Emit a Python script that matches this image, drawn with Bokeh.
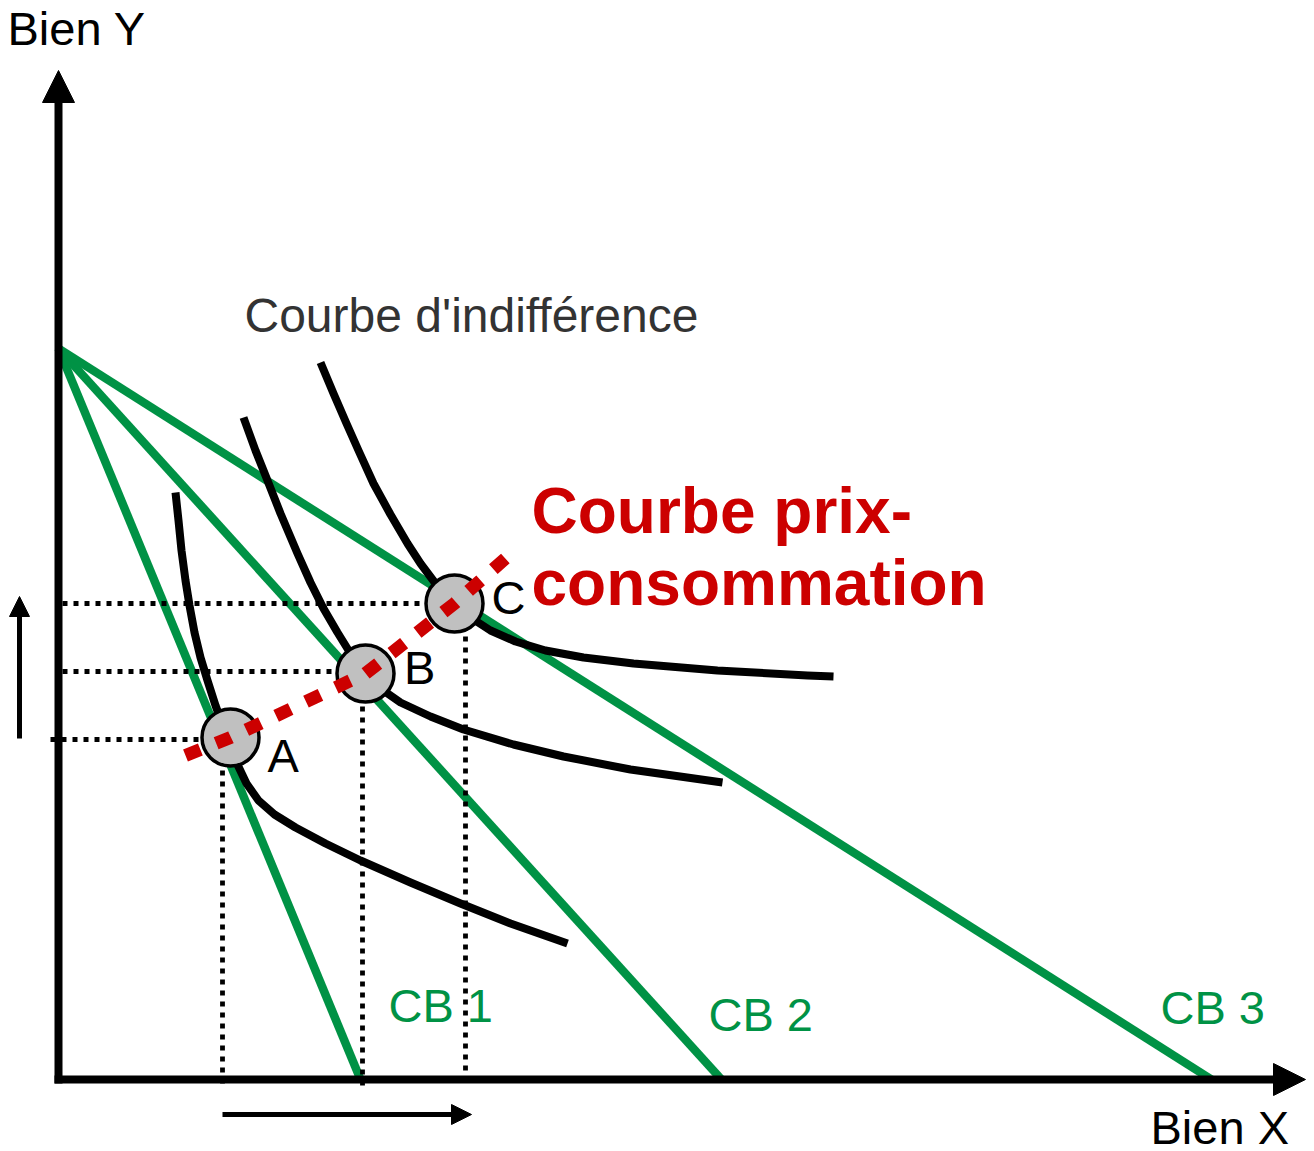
from bokeh.plotting import figure
from bokeh.models import Range1d, Arrow, NormalHead
from bokeh.core.properties import value
from bokeh.embed import file_html
from bokeh.resources import INLINE

# ---- data (units: Bien X / Bien Y) ----
budget_y0 = 73.1                       # common Y intercept of the budget lines
budget_x0 = [30.2, 66.3, 115.3]        # X intercepts CB 1, CB 2, CB 3
budget_labels = ["CB 1", "CB 2", "CB 3"]
budget_label_x = [33.0, 65.0, 110.2]
budget_label_y = [7.36, 6.46, 7.16]

ic1_x = [11.7, 12.0, 12.3, 12.7, 13.1, 13.6, 14.2, 14.9, 15.7, 16.4, 17.2, 17.8, 18.8, 20.0, 21.6, 23.7, 26.7, 30.2, 35.2, 40.2, 45.2, 50.9]
ic1_y = [58.7, 55.9, 52.9, 49.9, 47.4, 44.7, 42.2, 39.9, 37.4, 35.5, 33.9, 31.7, 29.6, 27.9, 26.5, 25.2, 23.6, 21.9, 19.7, 17.6, 15.6, 13.6]
ic2_x = [18.5, 19.7, 20.9, 22.2, 23.9, 25.2, 26.5, 27.9, 29.2, 30.8, 32.2, 34.2, 37.2, 40.5, 45.5, 50.5, 57.2, 66.4]
ic2_y = [66.2, 62.9, 59.9, 56.6, 52.6, 49.7, 47.1, 44.7, 42.6, 40.6, 39.1, 37.7, 36.3, 35.0, 33.5, 32.3, 31.0, 29.7]
ic3_x = [26.2, 27.5, 28.8, 30.0, 31.5, 33.2, 34.9, 36.2, 37.7, 39.6, 41.2, 43.2, 45.7, 48.7, 52.5, 57.5, 65.9, 74.9, 77.5]
ic3_y = [71.7, 68.6, 65.6, 62.9, 59.6, 56.5, 53.6, 51.6, 49.6, 47.6, 46.2, 44.9, 43.8, 42.9, 42.2, 41.6, 40.9, 40.4, 40.3]

pts_name = ["A", "B", "C"]
pts_x = [17.2, 30.7, 39.6]
pts_y = [34.2, 40.6, 47.6]
pts_label_x = [20.9, 34.55, 43.3]
pts_label_y = [32.36, 41.16, 48.16]

# dotted guides
guide_h_y = [34.0, 40.8, 47.6]
guide_h_x0 = [-0.8, 0.4, 0.4]
guide_h_x1 = [17.2, 30.7, 39.6]
guide_v_x = [16.4, 30.4, 40.7]
guide_v_y0 = [34.2, 40.6, 47.6]
guide_v_y1 = [-0.6, -1.1, 0.6]

# price-consumption curve
pcc_x = [12.7, 17.2, 30.7, 39.6, 45.7]
pcc_y = [32.4, 34.2, 40.6, 47.6, 53.0]

# axes & shift arrows
yaxis_x = [0.0, 0.0]
yaxis_y = [-0.4, 100.9]
xaxis_x = [-0.4, 124.7]
xaxis_y = [0.0, 0.0]
up_arrow_x = [-3.9, -3.9]
up_arrow_y = [34.1, 48.3]
right_arrow_x = [16.4, 41.3]
right_arrow_y = [-3.5, -3.5]

GREEN = "#009245"
RED = "#CC0000"
FONT = value("Liberation Sans")

p = figure(width=1314, height=1151, output_backend="svg", toolbar_location=None,
           x_range=Range1d(-5.8, 125.6), y_range=Range1d(-7.2, 107.9),
           x_axis_location=None, y_axis_location=None, min_border=0)
p.grid.visible = False
p.outline_line_color = None
p.background_fill_color = "white"

# budget lines
p.multi_line(xs=[[0, x0] for x0 in budget_x0], ys=[[budget_y0, 0] for _ in budget_x0],
             line_color=GREEN, line_width=8.5)

# dotted guides
p.segment(x0=guide_h_x0, y0=guide_h_y, x1=guide_h_x1, y1=guide_h_y,
          line_color="black", line_width=4.8, line_dash="5 6")
p.segment(x0=guide_v_x, y0=guide_v_y0, x1=guide_v_x, y1=guide_v_y1,
          line_color="black", line_width=4.8, line_dash="5 6")

# indifference curves
p.multi_line(xs=[ic1_x, ic2_x, ic3_x], ys=[ic1_y, ic2_y, ic3_y],
             line_color="black", line_width=8, line_join="round")

# equilibrium points
p.scatter(x=pts_x, y=pts_y, size=57, fill_color="#C0C0C0", line_color="black", line_width=3.5)

# price-consumption curve
p.line(x=pcc_x, y=pcc_y, line_color=RED, line_width=13, line_dash="16 17")

# labels
p.text(x=pts_label_x, y=pts_label_y, text=pts_name, text_font=FONT,
       text_font_size=value("47px"), text_color="black",
       text_baseline="alphabetic", text_align="left")
p.text(x=budget_label_x, y=budget_label_y, text=budget_labels, text_font=FONT,
       text_font_size=value("47px"), text_color=GREEN,
       text_baseline="alphabetic", text_align="left")
p.text(x=[18.6], y=[76.4], text=["Courbe d'indifférence"], text_font=FONT,
       text_font_size=value("48px"), text_color="#333333",
       text_baseline="alphabetic", text_align="left")
p.text(x=[47.3, 47.3], y=[56.9, 49.7], text=["Courbe prix-", "consommation"], text_font=FONT,
       text_font_size=value("64px"), text_font_style="bold", text_color=RED,
       text_baseline="alphabetic", text_align="left")
p.text(x=[-5.1], y=[105.06], text=["Bien Y"], text_font=FONT,
       text_font_size=value("47px"), text_color="black",
       text_baseline="alphabetic", text_align="left")
p.text(x=[109.2], y=[-4.8], text=["Bien X"], text_font=FONT,
       text_font_size=value("47px"), text_color="black",
       text_baseline="alphabetic", text_align="left")

# axes
p.add_layout(Arrow(end=NormalHead(size=32, fill_color="black", line_color="black"),
                   x_start=yaxis_x[0], y_start=yaxis_y[0], x_end=yaxis_x[1], y_end=yaxis_y[1],
                   line_width=8, line_color="black"))
p.add_layout(Arrow(end=NormalHead(size=32, fill_color="black", line_color="black"),
                   x_start=xaxis_x[0], y_start=xaxis_y[0], x_end=xaxis_x[1], y_end=xaxis_y[1],
                   line_width=8, line_color="black"))
# shift arrows
p.add_layout(Arrow(end=NormalHead(size=20, fill_color="black", line_color="black"),
                   x_start=up_arrow_x[0], y_start=up_arrow_y[0], x_end=up_arrow_x[1], y_end=up_arrow_y[1],
                   line_width=5, line_color="black"))
p.add_layout(Arrow(end=NormalHead(size=20, fill_color="black", line_color="black"),
                   x_start=right_arrow_x[0], y_start=right_arrow_y[0], x_end=right_arrow_x[1], y_end=right_arrow_y[1],
                   line_width=5, line_color="black"))

open("out.html", "w").write(file_html(p, INLINE))
